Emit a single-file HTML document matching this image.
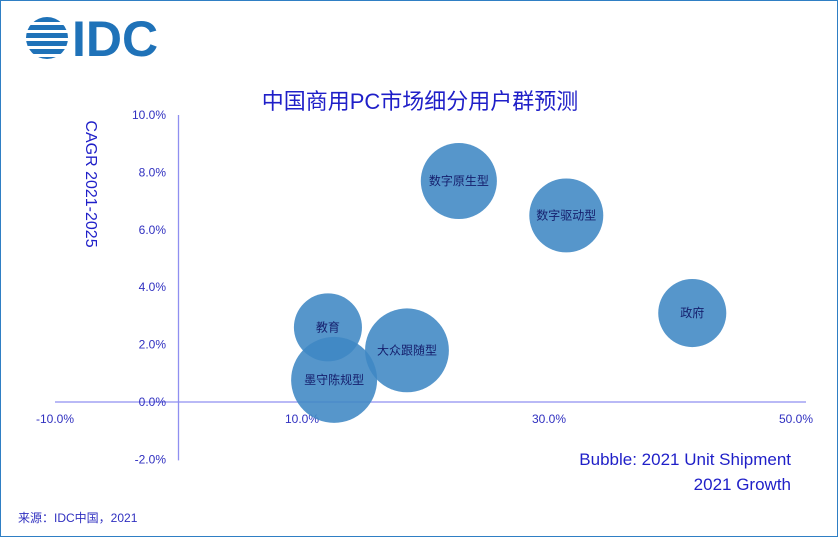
<!DOCTYPE html>
<html><head><meta charset="utf-8"><style>
html,body{margin:0;padding:0;background:#fff;}
#wrap{position:relative;width:836px;height:535px;border:1px solid #2f7fc4;overflow:hidden;font-family:"Liberation Sans","Noto Sans CJK SC",sans-serif;}
</style></head><body>
<div id="wrap">
<svg id="chart" width="836" height="535">
  <g>
    <clipPath id="lc"><circle cx="46" cy="37" r="21"/></clipPath>
    <g clip-path="url(#lc)" fill="#1f72b8">
      <rect x="20" y="16" width="60" height="5"/>
      <rect x="20" y="24" width="60" height="5"/>
      <rect x="20" y="32" width="60" height="5"/>
      <rect x="20" y="40" width="60" height="5"/>
      <rect x="20" y="48" width="60" height="5"/>
      <rect x="20" y="56" width="60" height="3"/>
    </g>
    <text x="71" y="55" font-size="50" font-weight="bold" fill="#1f72b8" font-family="Liberation Sans,sans-serif">IDC</text>
  </g>
  <text x="419" y="108" text-anchor="middle" font-size="22" fill="#1f1fc8">中国商用PC市场细分用户群预测</text>
  <text transform="translate(85,183) rotate(90)" text-anchor="middle" font-size="16" fill="#1f1fc8">CAGR 2021-2025</text>
  <g id="axes"></g>
  <g id="bubbles"></g>
  <text x="790" y="464" text-anchor="end" font-size="17" fill="#1f1fc8">Bubble: 2021 Unit Shipment</text>
  <text x="790" y="489" text-anchor="end" font-size="17" fill="#1f1fc8">2021 Growth</text>
  <text x="17" y="521" font-size="12" fill="#3030c0">来源：IDC中国，2021</text>
</svg>
</div>
<script>
const categories=["数字原生型","数字驱动型","政府","教育","大众跟随型","墨守陈规型"];
const growth=[22.7,31.4,41.6,12.1,18.5,12.6];
const cagr=[7.7,6.5,3.1,2.6,1.8,0.77];
const shipment=[1.45,1.37,1.16,1.16,1.76,1.85];
const xTicks=[-10,10,30,50];
const yTicks=[10,8,6,4,2,0,-2];
const NS="http://www.w3.org/2000/svg";
function xs(v){return 177.5+v*12.35;}
function ys(v){return 401-v*28.7;}
function rs(v){return 31.6*Math.sqrt(v);}
function mk(tag,attrs,parent){const e=document.createElementNS(NS,tag);for(const k in attrs)e.setAttribute(k,attrs[k]);parent.appendChild(e);return e;}
const ax=document.getElementById('axes');
const bb=document.getElementById('bubbles');
let l=mk('line',{x1:xs(-10),x2:xs(50)+10,y1:ys(0),y2:ys(0),stroke:'#8f8ff0','stroke-width':1.3},ax);


l=mk('line',{x1:xs(0),x2:xs(0),y1:ys(10),y2:ys(-2)+1,stroke:'#8f8ff0','stroke-width':1.3},ax);


xTicks.forEach(v=>{const t=mk('text',{x:xs(v),y:422,'text-anchor':'middle','font-size':12,fill:'#3030c0'},ax);t.textContent=v.toFixed(1)+'%';

});
yTicks.forEach(v=>{const t=mk('text',{x:165,y:ys(v)+4,'text-anchor':'end','font-size':12,fill:'#3030c0'},ax);t.textContent=v.toFixed(1)+'%';

});
categories.forEach((c,i)=>{const g=mk('g',{},bb);


mk('circle',{cx:xs(growth[i]),cy:ys(cagr[i]),r:rs(shipment[i]),fill:'#3f87c4','fill-opacity':0.88},g);
const t=mk('text',{x:xs(growth[i]),y:ys(cagr[i])+4,'text-anchor':'middle','font-size':12,fill:'#16206e'},g);t.textContent=c;});
</script>
</body></html>
